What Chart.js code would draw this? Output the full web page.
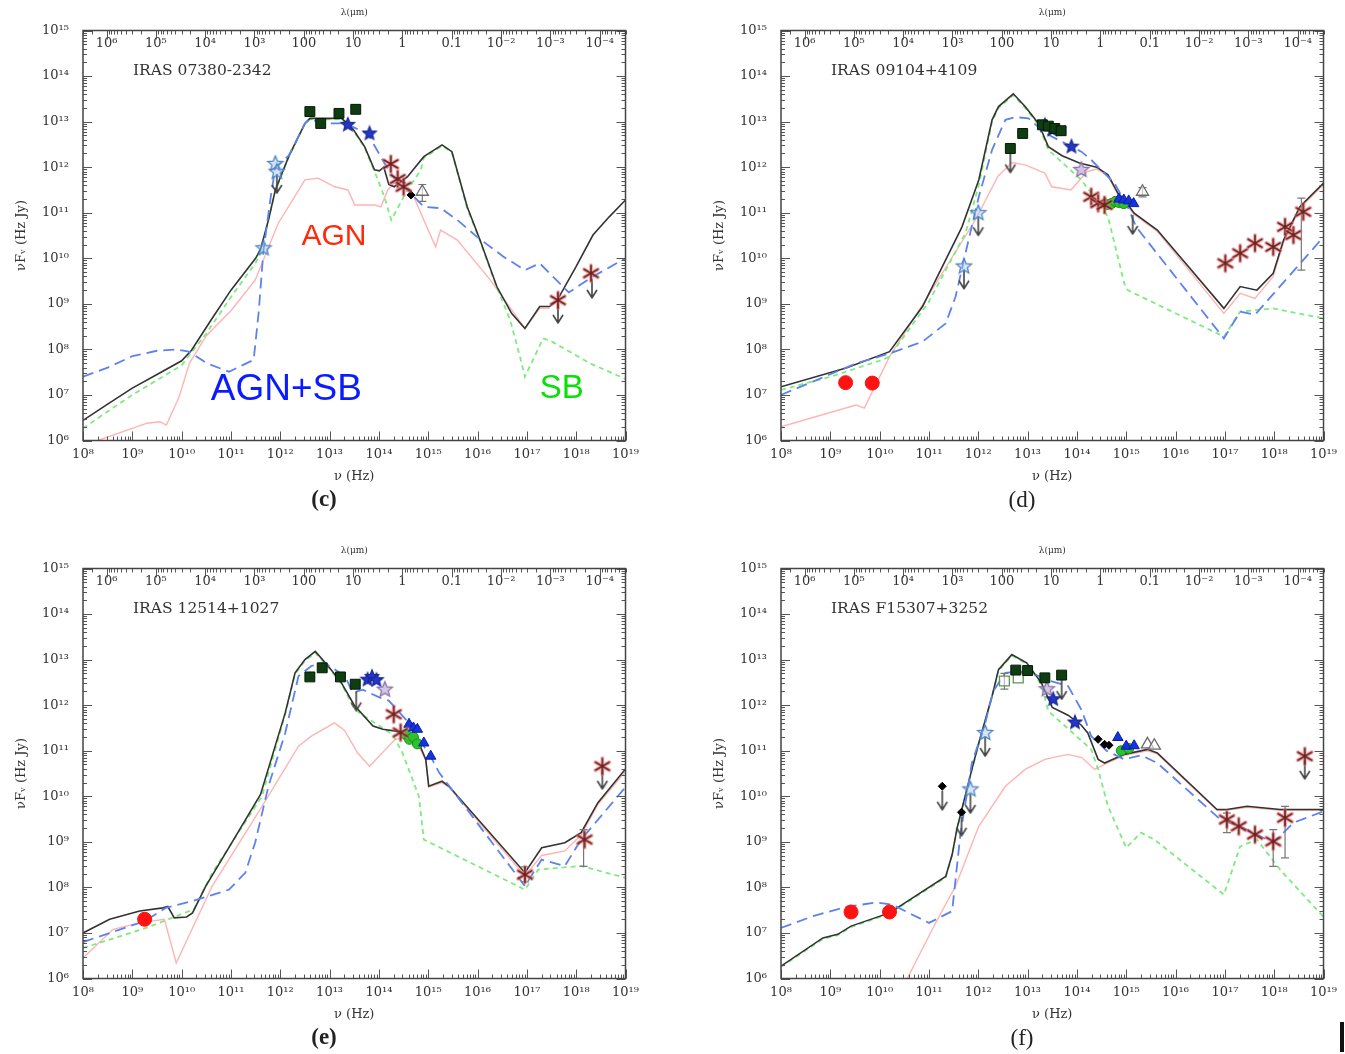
<!DOCTYPE html>
<html>
<head>
<meta charset="utf-8">
<script src="https://cdn.jsdelivr.net/npm/chart.js@4.4.1/dist/chart.umd.min.js"></script>
<style>
  html, body { margin: 0; padding: 0; background: #fff; overflow: hidden; }
  #page { position: relative; width: 1345px; height: 1054px; }
  canvas { position: absolute; }
  #edge { position: absolute; left: 1340px; top: 1022px; width: 4px; height: 30px; background: #111; }
</style>
</head>
<body>
<div id="page">
  <canvas id="sed-c" width="645" height="520" style="left:0px;top:0px"></canvas>
  <canvas id="sed-d" width="645" height="520" style="left:698px;top:0px"></canvas>
  <canvas id="sed-e" width="645" height="520" style="left:0px;top:538px"></canvas>
  <canvas id="sed-f" width="645" height="520" style="left:698px;top:538px"></canvas>
  <div id="edge"></div>
</div>
<script>
// axis decades (log10) and the wavelength scale printed along the top
const FREQ_DECADES = [8, 9, 10, 11, 12, 13, 14, 15, 16, 17, 18, 19];
const FLUX_DECADES = [6, 7, 8, 9, 10, 11, 12, 13, 14, 15];
const LAMBDA_UM = [1e6, 1e5, 1e4, 1e3, 100, 10, 1, 0.1, 0.01, 1e-3, 1e-4];
const LAMBDA_LABELS = ['10⁶', '10⁵', '10⁴', '10³', '100', '10', '1', '0.1', '10⁻²', '10⁻³', '10⁻⁴'];
const C_UM = 3e14; // c in micron * Hz

// every series below is [log10 nu (Hz), log10 nuF_nu (Hz Jy)]

// (c) IRAS 07380-2342
const C_TOTAL = [[8.0,6.44],[8.5,6.8],[9.0,7.15],[9.5,7.45],[10.0,7.75],[10.2,7.98],[10.6,8.65],[11.0,9.3],[11.5,10.0],[11.6,10.2],[11.76,10.84],[11.9,11.5],[12.17,12.23],[12.5,12.96],[12.6,13.07],[13.24,13.07],[13.44,12.89],[13.71,12.45],[13.91,11.94],[14.01,11.92],[14.1,12.0],[14.2,11.62],[14.31,11.57],[14.58,11.79],[14.91,12.23],[15.28,12.49],[15.48,12.34],[15.79,11.13],[16.05,10.4],[16.39,9.38],[16.69,8.79],[16.96,8.46],[17.26,8.94],[17.46,8.94],[17.6,9.05],[18.0,9.82],[18.34,10.51],[18.67,10.91],[19.0,11.28]];
const C_MIX = [[8.0,7.4],[8.5,7.6],[9.0,7.85],[9.5,7.97],[9.9,8.0],[10.15,7.95],[10.5,7.7],[10.96,7.51],[11.46,7.77],[11.56,8.79],[11.66,10.18],[11.8,11.3],[11.9,12.0],[12.17,12.25],[12.5,12.96],[12.6,13.05],[12.9,12.96],[13.31,12.96],[13.77,12.74],[14.11,12.09],[14.38,11.65],[14.58,11.5],[14.91,11.13],[15.25,11.1],[15.59,10.84],[15.99,10.47],[16.52,10.04],[16.96,9.74],[17.26,9.89],[17.85,9.25],[18.34,9.6],[19.0,10.0]];
const C_SB = [[8.0,6.27],[9.0,7.0],[10.0,7.65],[10.5,8.35],[11.0,9.15],[11.5,9.9],[11.62,10.15],[11.76,10.84],[11.9,11.48],[12.17,12.22],[12.5,12.95],[12.6,13.05],[13.24,13.05],[13.44,12.87],[13.71,12.43],[13.98,11.72],[14.11,11.35],[14.25,10.84],[14.58,11.5],[14.85,11.94],[14.91,12.2],[15.28,12.47],[15.48,12.32],[15.79,11.1],[16.05,10.38],[16.39,9.36],[16.66,8.65],[16.86,7.84],[16.96,7.4],[17.33,8.24],[17.46,8.2],[18.27,7.7],[19.0,7.35]];
const C_AGN = [[8.3,6.0],[9.3,6.38],[9.56,6.41],[9.69,6.34],[9.95,6.96],[10.16,7.7],[10.5,8.3],[11.0,8.85],[11.49,9.52],[11.96,10.77],[12.5,11.72],[12.77,11.76],[13.1,11.57],[13.37,11.5],[13.51,11.17],[13.91,11.17],[14.04,11.13],[14.18,11.5],[14.31,11.65],[14.65,11.5],[14.91,10.84],[15.15,10.25],[15.25,10.62],[15.59,10.4],[16.26,9.52],[16.96,8.46],[17.26,8.9],[17.46,8.9]];
const C_SQUARES = [[12.6,13.22],[12.82,12.96],[13.19,13.18],[13.53,13.27]];
const C_STARS = [[13.37,12.93],[13.81,12.74]];
const C_OPEN_STARS = [[11.9,12.07],[11.93,11.9],[11.66,10.22]];
const C_ASTERISKS = [[14.24,12.07],[14.38,11.74],[14.5,11.57],[17.63,9.08],[18.3,9.67]];
const C_DOTS = [[14.65,11.39]];
const C_OPEN_TRI = [[14.88,11.46]];
const C_LIMITS = [[11.93,11.85],[17.63,9.0],[18.32,9.55]];
const C_ERRBARS = [[14.88,11.25,11.62]];

// (d) IRAS 09104+4109
const D_TOTAL = [[8.0,7.18],[9.32,7.59],[10.2,7.95],[10.87,8.94],[11.67,10.69],[12.01,11.72],[12.28,13.04],[12.41,13.33],[12.71,13.61],[12.95,13.33],[13.22,12.96],[13.42,12.45],[13.7,12.25],[14.05,12.09],[14.4,12.0],[14.63,11.83],[14.83,11.43],[14.95,11.3],[15.16,10.99],[15.63,10.62],[16.98,8.9],[17.31,9.38],[17.65,9.3],[17.98,9.67],[18.19,10.4],[18.52,11.13],[19.0,11.65]];
const D_MIX = [[8.0,7.0],[9.52,7.69],[10.2,7.91],[10.87,8.17],[11.34,8.57],[11.54,9.16],[11.74,10.11],[12.01,11.35],[12.28,12.38],[12.55,13.04],[12.75,13.1],[13.02,13.07],[13.28,12.82],[13.42,12.71],[14.09,12.34],[14.29,12.16],[14.76,11.65],[15.03,11.13],[15.2,10.69],[16.98,8.24],[17.31,8.83],[17.61,8.76],[19.0,10.47]];
const D_SB = [[8.0,7.11],[9.0,7.4],[10.0,7.75],[10.2,7.84],[11.0,9.05],[11.74,10.55],[12.01,11.6],[12.28,13.0],[12.41,13.3],[12.71,13.58],[12.95,13.3],[13.22,12.93],[13.42,12.38],[14.09,11.72],[14.49,11.13],[14.63,10.91],[14.96,9.45],[15.03,9.3],[16.98,8.28],[17.31,8.83],[17.98,8.9],[19.0,8.68]];
const D_AGN = [[8.0,6.3],[9.52,6.78],[9.69,6.71],[10.2,7.84],[11.0,9.2],[11.94,10.84],[12.4,11.8],[12.68,12.1],[12.95,12.05],[13.35,11.87],[13.49,11.57],[13.88,11.5],[14.2,11.9],[14.4,11.96],[14.63,11.8],[14.83,11.4],[15.16,10.96],[15.63,10.59],[16.98,8.79],[17.31,9.23],[17.61,9.12],[17.98,9.6],[18.19,10.35],[18.52,11.1],[19.0,11.62]];
const D_CIRCLES = [[9.31,7.27],[9.85,7.26]];
const D_SQUARES = [[12.65,12.41],[12.9,12.74],[13.3,12.93],[13.42,12.9],[13.55,12.85],[13.68,12.8]];
const D_STARS = [[13.35,12.92],[13.5,12.82],[13.89,12.45]];
const D_OPEN_STARS = [[12.0,10.99],[11.71,9.82]];
const D_PALE_STARS = [[14.09,11.94]];
const D_ASTERISKS = [[14.29,11.35],[14.43,11.21],[14.56,11.17],[17.01,9.89],[17.31,10.11],[17.61,10.33],[17.98,10.25],[18.22,10.69],[18.39,10.51],[18.59,11.02]];
const D_GREEN = [[14.62,11.18],[14.7,11.2],[14.78,11.25],[14.86,11.22],[14.95,11.2]];
const D_TRIANGLES = [[14.85,11.3],[14.95,11.28],[15.05,11.26],[15.15,11.2]];
const D_OPEN_TRI = [[15.33,11.46]];
const D_LIMITS = [[12.0,10.92],[11.71,9.75],[12.65,12.3],[15.13,10.95]];
const D_ERRBARS = [[15.33,11.35,11.55],[18.55,9.74,11.32]];

// (e) IRAS 12514+1027
const E_TOTAL = [[8.0,7.0],[8.54,7.3],[9.15,7.48],[9.62,7.55],[9.72,7.58],[9.85,7.33],[10.1,7.35],[10.22,7.44],[10.49,8.03],[11.0,8.95],[11.6,10.04],[12.1,11.83],[12.3,12.71],[12.5,13.0],[12.71,13.18],[12.97,12.86],[13.24,12.49],[13.5,12.0],[13.88,11.54],[14.08,11.47],[14.34,11.43],[14.6,11.35],[14.81,11.17],[14.95,10.81],[15.01,10.22],[15.28,10.33],[15.42,10.22],[16.96,8.32],[17.3,8.87],[17.77,8.98],[18.1,9.2],[18.44,9.86],[19.0,10.6]];
const E_MIX = [[8.0,6.8],[9.25,7.26],[9.68,7.55],[10.22,7.7],[10.96,7.95],[11.29,8.32],[11.49,8.98],[11.76,10.22],[12.1,11.39],[12.37,12.64],[12.63,12.86],[12.9,12.93],[13.31,12.64],[13.47,12.27],[13.67,12.34],[14.01,12.17],[14.2,12.1],[14.61,11.61],[15.08,10.81],[15.22,10.52],[16.96,8.03],[17.3,8.61],[17.77,8.47],[18.1,9.05],[19.0,10.2]];
const E_SB = [[8.0,6.67],[9.28,7.11],[10.25,7.52],[10.62,8.32],[11.63,10.0],[12.1,11.8],[12.3,12.68],[12.5,12.97],[12.71,13.15],[12.97,12.84],[13.24,12.47],[13.51,11.9],[14.28,11.35],[14.48,10.95],[14.81,10.0],[14.91,9.05],[16.96,7.95],[17.23,8.39],[18.1,8.47],[19.0,8.21]];
const E_AGN = [[8.0,6.45],[8.61,7.08],[9.15,7.22],[9.65,7.3],[9.89,6.34],[10.62,8.03],[11.63,9.78],[12.37,11.1],[12.63,11.32],[13.1,11.61],[13.3,11.45],[13.57,10.95],[13.81,10.66],[14.33,11.25],[14.6,11.3],[14.81,11.1],[14.95,10.78],[15.01,10.2],[15.28,10.3],[15.42,10.2],[16.96,8.25],[17.3,8.7],[17.77,8.8],[18.1,9.15],[18.44,9.82],[19.0,10.55]];
const E_CIRCLES = [[9.25,7.3]];
const E_SQUARES = [[12.6,12.62],[12.85,12.82],[13.22,12.62],[13.52,12.46]];
const E_STARS = [[13.77,12.56],[13.86,12.62],[13.95,12.55]];
const E_PALE_STARS = [[14.12,12.34]];
const E_ASTERISKS = [[14.3,11.8],[14.44,11.4],[16.96,8.28],[18.17,9.05],[18.53,10.66]];
const E_GREEN = [[14.55,11.35],[14.62,11.25],[14.7,11.3],[14.78,11.15]];
const E_TRIANGLES = [[14.61,11.58],[14.7,11.5],[14.78,11.47],[14.91,11.17],[15.05,10.88]];
const E_LIMITS = [[13.54,12.3],[18.53,10.58]];
const E_ERRBARS = [[16.96,8.12,8.45],[18.15,8.46,9.27]];

// (f) IRAS F15307+3252
const F_TOTAL = [[8.0,6.27],[8.85,6.89],[9.15,6.97],[9.42,7.15],[10.2,7.44],[11.34,8.24],[11.47,8.72],[11.57,9.3],[11.87,10.59],[12.01,11.17],[12.28,12.2],[12.41,12.78],[12.68,13.11],[12.98,12.93],[13.28,12.49],[13.5,11.95],[13.82,11.78],[14.09,11.56],[14.22,11.39],[14.43,10.81],[14.56,10.73],[14.96,10.92],[15.43,11.03],[15.63,10.95],[16.84,9.71],[17.04,9.71],[17.45,9.78],[18.12,9.71],[19.0,9.71]];
const F_MIX = [[8.0,7.11],[8.65,7.37],[9.32,7.57],[9.93,7.67],[10.26,7.62],[11.0,7.22],[11.47,7.48],[11.64,9.19],[11.87,10.73],[12.14,11.6],[12.3,12.3],[12.55,12.71],[12.82,12.74],[13.08,12.71],[13.4,12.55],[13.82,12.42],[14.09,11.9],[14.29,11.32],[14.6,11.0],[14.96,10.81],[15.3,10.9],[15.63,10.73],[16.91,9.49],[17.31,9.34],[17.98,8.98],[18.39,9.42],[19.0,9.67]];
const F_SB = [[8.0,6.25],[8.85,6.87],[9.15,6.95],[9.42,7.13],[10.2,7.42],[11.34,8.22],[11.47,8.7],[11.57,9.28],[11.87,10.57],[12.01,11.15],[12.28,12.18],[12.41,12.76],[12.68,13.09],[12.98,12.91],[13.28,12.45],[13.42,11.87],[14.29,11.03],[14.43,10.59],[14.63,9.78],[15.0,8.87],[15.3,9.2],[15.57,9.05],[16.98,7.84],[17.31,8.9],[17.65,9.05],[18.12,8.39],[19.0,7.35]];
const F_AGN = [[10.56,6.0],[11.14,7.23],[11.54,8.03],[12.01,9.34],[12.55,10.22],[12.95,10.59],[13.35,10.81],[13.82,10.92],[14.1,10.85],[14.36,10.59],[14.56,10.7],[14.96,10.9],[15.43,11.0],[15.63,10.93],[16.84,9.69],[17.04,9.69],[17.45,9.76],[18.12,9.69],[19.0,9.69]];
const F_CIRCLES = [[9.42,7.46],[10.2,7.46]];
const F_DOTS = [[11.27,10.22],[11.66,9.65],[14.43,11.25],[14.56,11.14],[14.65,11.12]];
const F_OPEN_STARS = [[11.84,10.15],[12.14,11.39]];
const F_OPEN_SQUARES = [[12.53,12.53],[12.81,12.6]];
const F_SQUARES = [[12.76,12.77],[13.0,12.76],[13.35,12.6],[13.69,12.66]];
const F_STARS = [[13.52,12.13],[13.96,11.62]];
const F_PALE_STARS = [[13.39,12.35]];
const F_TRIANGLES = [[14.83,11.29],[15.0,11.1],[15.16,11.11]];
const F_GREEN = [[14.9,11.0],[15.05,11.05]];
const F_OPEN_TRI = [[15.43,11.14],[15.57,11.11]];
const F_ASTERISKS = [[17.04,9.49],[17.28,9.34],[17.61,9.16],[17.98,9.01],[18.22,9.53],[18.62,10.88]];
const F_LIMITS = [[11.27,10.12],[11.66,9.55],[11.84,10.05],[12.14,11.3],[13.69,12.55],[18.62,10.8]];
const F_ERRBARS = [[12.53,12.35,12.7],[17.04,9.2,9.63],[17.98,8.46,9.27],[18.22,8.65,9.78]];

const SERIF = '"DejaVu Serif", "Liberation Serif", serif';
const SUP = {'0':'⁰','1':'¹','2':'²','3':'³','4':'⁴','5':'⁵','6':'⁶','7':'⁷','8':'⁸','9':'⁹','-':'⁻'};
const pow10 = v => '10' + String(Math.round(Math.log10(v))).split('').map(ch => SUP[ch]).join('');
const toPts = arr => arr.map(([lx, ly]) => ({ x: 10 ** lx, y: 10 ** ly }));

// ---- marker sprites -------------------------------------------------------
function sprite(w, h, draw) {
  const c = document.createElement('canvas');
  c.width = w; c.height = h;
  const g = c.getContext('2d');
  g.translate(w / 2, h / 2);
  draw(g);
  return c;
}
function star(r, fill, stroke) {
  return sprite(2 * r + 4, 2 * r + 4, g => {
    g.beginPath();
    for (let i = 0; i < 10; i++) {
      const rad = i % 2 ? r * 0.45 : r;
      const a = -Math.PI / 2 + i * Math.PI / 5;
      g.lineTo(rad * Math.cos(a), rad * Math.sin(a));
    }
    g.closePath();
    g.fillStyle = fill; g.fill();
    g.strokeStyle = stroke; g.lineWidth = 1.3; g.stroke();
  });
}
function asterisk(r) {
  return sprite(2 * r + 6, 2 * r + 6, g => {
    const spokes = () => {
      g.beginPath();
      for (let i = 0; i < 3; i++) {
        const a = Math.PI / 2 + i * Math.PI / 3;
        g.moveTo(-r * Math.cos(a), -r * Math.sin(a));
        g.lineTo(r * Math.cos(a), r * Math.sin(a));
      }
    };
    g.lineCap = 'round';
    spokes(); g.strokeStyle = 'rgba(230,125,125,0.6)'; g.lineWidth = 4; g.stroke();
    spokes(); g.strokeStyle = '#6e1f1f'; g.lineWidth = 1.6; g.stroke();
  });
}
function arrow(color) {
  // drawn below the anchor point: stem plus open head
  return sprite(14, 44, g => {
    g.strokeStyle = color; g.lineWidth = 1.6; g.lineJoin = 'round';
    g.beginPath();
    g.moveTo(0, 0); g.lineTo(0, 18);
    g.moveTo(-5, 11); g.lineTo(0, 19); g.lineTo(5, 11);
    g.stroke();
  });
}

const STYLE = {
  squares:    { pointStyle: 'rect', pointRadius: 7, backgroundColor: '#0f3d12', borderColor: '#041a06', borderWidth: 1 },
  openSquares:{ pointStyle: 'rect', pointRadius: 7, backgroundColor: 'rgba(255,255,255,0.5)', borderColor: '#5f8f5f', borderWidth: 1.3 },
  stars:      { pointStyle: star(7, '#2536c8', '#1a2a9a'), pointRadius: 6 },
  openStars:  { pointStyle: star(8, 'rgba(160,195,235,0.45)', '#4f86c6'), pointRadius: 6 },
  paleStars:  { pointStyle: star(8, 'rgba(175,150,205,0.55)', '#8a72a8'), pointRadius: 6 },
  asterisks:  { pointStyle: asterisk(8), pointRadius: 6 },
  circles:    { pointStyle: 'circle', pointRadius: 7, backgroundColor: '#ff1212', borderColor: '#ff1212', borderWidth: 1 },
  dots:       { pointStyle: 'rectRot', pointRadius: 4, backgroundColor: '#000', borderColor: '#000', borderWidth: 1 },
  triangles:  { pointStyle: 'triangle', pointRadius: 6, backgroundColor: '#1533e0', borderColor: '#0b1f9a', borderWidth: 1 },
  green:      { pointStyle: 'circle', pointRadius: 5, backgroundColor: '#2cc22c', borderColor: '#1a8f1a', borderWidth: 1 },
  openTri:    { pointStyle: 'triangle', pointRadius: 7, backgroundColor: 'rgba(255,255,255,0.6)', borderColor: '#6a6a6a', borderWidth: 1.3 },
  limits:     { pointStyle: arrow('#444'), pointRadius: 6 },
};

function curve(arr, color, width, dash) {
  return { data: toPts(arr), showLine: true, borderColor: color, borderWidth: width,
           borderDash: dash, pointRadius: 0, fill: false, tension: 0 };
}
function marks(arr, style) {
  return { data: toPts(arr), showLine: false, ...style };
}
function errbar([lx, lo, hi]) {
  return { data: [{ x: 10 ** lx, y: 10 ** lo }, { x: 10 ** lx, y: 10 ** hi }], showLine: true,
           borderColor: '#777', borderWidth: 1.2, pointStyle: 'line', pointRadius: 4,
           pointBorderColor: '#777', pointBorderWidth: 1.2 };
}

// ---- frame with inward ticks on all four sides ---------------------------
const frameTicks = {
  id: 'frameTicks',
  afterDatasetsDraw(chart) {
    const { ctx, chartArea: a } = chart;
    const sx = chart.scales.x, sy = chart.scales.y;
    ctx.save();
    ctx.strokeStyle = '#555';
    ctx.lineWidth = 1;
    ctx.beginPath();
    for (const e of FREQ_DECADES) {
      for (let k = 1; k <= 9; k++) {
        const v = k * 10 ** e;
        if (v > 1.0001e19) break;
        const px = Math.round(sx.getPixelForValue(v)) + 0.5;
        const len = k === 1 ? 9 : 4;
        ctx.moveTo(px, a.bottom); ctx.lineTo(px, a.bottom - len);
      }
    }
    for (let m = -5; m <= 6; m++) {
      for (let k = 1; k <= 9; k++) {
        const nu = C_UM / (k * 10 ** m);
        if (nu < 1e8 || nu > 1e19) continue;
        const px = Math.round(sx.getPixelForValue(nu)) + 0.5;
        const len = k === 1 ? 9 : 4;
        ctx.moveTo(px, a.top); ctx.lineTo(px, a.top + len);
      }
    }
    for (const e of FLUX_DECADES) {
      for (let k = 1; k <= 9; k++) {
        const v = k * 10 ** e;
        if (v > 1.0001e15) break;
        const py = Math.round(sy.getPixelForValue(v)) + 0.5;
        const len = k === 1 ? 9 : 4;
        ctx.moveTo(a.left, py); ctx.lineTo(a.left + len, py);
        ctx.moveTo(a.right, py); ctx.lineTo(a.right - len, py);
      }
    }
    ctx.stroke();
    ctx.lineWidth = 1.5;
    ctx.strokeStyle = '#444';
    ctx.strokeRect(a.left, a.top, a.right - a.left, a.bottom - a.top);
    ctx.restore();
  }
};

// object name, panel letter and the component notes
function panelText(p) {
  return {
    id: 'panelText',
    afterDraw(chart) {
      const { ctx, chartArea: a } = chart;
      const sx = chart.scales.x, sy = chart.scales.y;
      ctx.save();
      ctx.fillStyle = '#333';
      ctx.font = '15.5px ' + SERIF;
      ctx.textAlign = 'left';
      ctx.textBaseline = 'middle';
      ctx.fillText(p.name, a.left + 50, a.top + 40.5);
      ctx.fillStyle = '#222';
      ctx.font = (p.bold ? 'bold ' : '') + '23px "Liberation Serif", serif';
      ctx.textAlign = 'center';
      ctx.fillText(p.letter, a.left + 241, a.bottom + 60);
      ctx.textAlign = 'left';
      ctx.textBaseline = 'alphabetic';
      for (const n of p.notes || []) {
        ctx.font = n.size + 'px "Liberation Sans", Arial, sans-serif';
        ctx.fillStyle = n.color;
        ctx.fillText(n.text, sx.getPixelForValue(10 ** n.at[0]), sy.getPixelForValue(10 ** n.at[1]));
      }
      ctx.restore();
    }
  };
}

function makePanel(p) {
  const ds = [];
  const add = (arr, style) => { if (arr) ds.push(marks(arr, style)); };
  add(p.asterisks, STYLE.asterisks);
  add(p.squares, STYLE.squares);
  add(p.openSquares, STYLE.openSquares);
  add(p.stars, STYLE.stars);
  add(p.paleStars, STYLE.paleStars);
  add(p.circles, STYLE.circles);
  add(p.dots, STYLE.dots);
  add(p.triangles, STYLE.triangles);
  add(p.green, STYLE.green);
  add(p.openTri, STYLE.openTri);
  add(p.openStars, STYLE.openStars);
  add(p.limits, STYLE.limits);
  (p.errbars || []).forEach(e => ds.push(errbar(e)));
  ds.push(curve(p.mix, '#5d82ee', 1.8, [11, 6]));
  ds.push(curve(p.total, '#333', 1.6, []));
  ds.push(curve(p.sb, '#7deb7d', 1.8, [5, 4]));
  ds.push(curve(p.agn, '#ffb3b3', 1.4, []));

  const tickFont = { family: SERIF, size: 13 };
  new Chart(document.getElementById(p.id), {
    type: 'scatter',
    data: { datasets: ds },
    options: {
      responsive: false,
      animation: false,
      devicePixelRatio: 1,
      events: [],
      layout: { padding: { left: 0, right: 15, top: 0, bottom: 0 } },
      plugins: { legend: { display: false }, tooltip: { enabled: false } },
      scales: {
        x: {
          type: 'logarithmic', position: 'bottom', min: 1e8, max: 1e19,
          grid: { display: false, drawTicks: false }, border: { display: false },
          ticks: { autoSkip: false, maxRotation: 0, padding: 6, font: tickFont, color: '#333',
                   callback: v => pow10(v) },
          afterBuildTicks: s => { s.ticks = FREQ_DECADES.map(e => ({ value: 10 ** e })); },
          afterFit: s => { s.height = 79.5; },
          title: { display: true, text: 'ν (Hz)', color: '#333', font: { family: SERIF, size: 13 },
                   padding: { top: 0, bottom: 36 } },
        },
        x2: {
          type: 'logarithmic', position: 'top', min: 1e8, max: 1e19,
          grid: { display: false, drawTicks: false }, border: { display: false },
          ticks: { mirror: true, autoSkip: false, maxRotation: 0, padding: 5, font: tickFont, color: '#333',
                   callback: (v, i) => LAMBDA_LABELS[i] },
          afterBuildTicks: s => { s.ticks = LAMBDA_UM.map(l => ({ value: C_UM / l })); },
          afterFit: s => { s.height = 30.5; },
          title: { display: true, text: 'λ(μm)', color: '#333', font: { family: SERIF, size: 9 },
                   padding: { top: 7.5, bottom: 0 } },
        },
        y: {
          type: 'logarithmic', position: 'left', min: 1e6, max: 1e15,
          grid: { display: false, drawTicks: false }, border: { display: false },
          ticks: { autoSkip: false, padding: 14, font: tickFont, color: '#333',
                   callback: v => pow10(v) },
          afterBuildTicks: s => { s.ticks = FLUX_DECADES.map(e => ({ value: 10 ** e })); },
          afterFit: s => { s.width = 83; },
          title: { display: true, text: 'νFᵥ (Hz Jy)', color: '#333', font: { family: SERIF, size: 13 },
                   padding: { top: 14 } },
        },
      },
    },
    plugins: [frameTicks, panelText(p)],
  });
}

const PANELS = [
  { id: 'sed-c', name: 'IRAS 07380-2342', letter: '(c)', bold: true,
    total: C_TOTAL, mix: C_MIX, sb: C_SB, agn: C_AGN,
    squares: C_SQUARES, stars: C_STARS, openStars: C_OPEN_STARS, asterisks: C_ASTERISKS,
    dots: C_DOTS, openTri: C_OPEN_TRI, limits: C_LIMITS, errbars: C_ERRBARS,
    notes: [
      { text: 'AGN', color: '#ff2a0a', size: 30, at: [12.43, 10.29] },
      { text: 'AGN+SB', color: '#0a1cff', size: 37, at: [10.59, 6.89] },
      { text: 'SB', color: '#08e008', size: 33, at: [17.26, 6.93] },
    ] },
  { id: 'sed-d', name: 'IRAS 09104+4109', letter: '(d)', bold: false,
    total: D_TOTAL, mix: D_MIX, sb: D_SB, agn: D_AGN,
    circles: D_CIRCLES, squares: D_SQUARES, stars: D_STARS, openStars: D_OPEN_STARS,
    paleStars: D_PALE_STARS, asterisks: D_ASTERISKS, green: D_GREEN, triangles: D_TRIANGLES,
    openTri: D_OPEN_TRI, limits: D_LIMITS, errbars: D_ERRBARS },
  { id: 'sed-e', name: 'IRAS 12514+1027', letter: '(e)', bold: true,
    total: E_TOTAL, mix: E_MIX, sb: E_SB, agn: E_AGN,
    circles: E_CIRCLES, squares: E_SQUARES, stars: E_STARS, paleStars: E_PALE_STARS,
    asterisks: E_ASTERISKS, green: E_GREEN, triangles: E_TRIANGLES, limits: E_LIMITS, errbars: E_ERRBARS },
  { id: 'sed-f', name: 'IRAS F15307+3252', letter: '(f)', bold: false,
    total: F_TOTAL, mix: F_MIX, sb: F_SB, agn: F_AGN,
    circles: F_CIRCLES, dots: F_DOTS, openStars: F_OPEN_STARS, openSquares: F_OPEN_SQUARES,
    squares: F_SQUARES, stars: F_STARS, paleStars: F_PALE_STARS, triangles: F_TRIANGLES,
    green: F_GREEN, openTri: F_OPEN_TRI, asterisks: F_ASTERISKS, limits: F_LIMITS, errbars: F_ERRBARS },
];

PANELS.forEach(makePanel);
</script>
</body>
</html>
